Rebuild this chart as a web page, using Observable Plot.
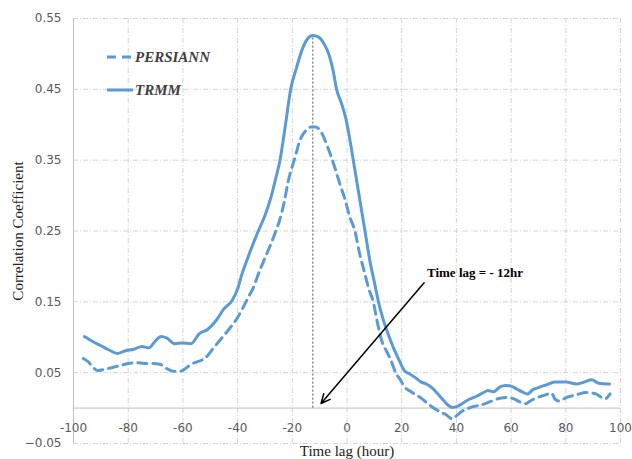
<!DOCTYPE html>
<html>
<head>
<meta charset="utf-8">
<script src="https://cdn.jsdelivr.net/npm/d3@7"></script>
<script src="https://cdn.jsdelivr.net/npm/@observablehq/plot@0.6"></script>
<style>
  html, body { margin: 0; padding: 0; background: #fff; }
  #wrap { position: relative; width: 632px; height: 459px; }
  #legend { position: absolute; left: 0; top: 0; pointer-events: none; }
</style>
</head>
<body>
<div id="wrap"></div>
<script>
// ---- data ----
const lagsTRMM = [-96,-93,-90,-87,-84,-81,-78,-75,-72.5,-70,-68,-66,-63,-60,-57,-54,-51,-48,-45,-42,-40,-38.5,-36,-34,-32.4,-30,-28,-26,-24.5,-22.5,-20.6,-18.5,-16.5,-14.5,-12.5,-10.5,-8.5,-6.5,-5,-3.8,-2,-0.5,1,2.3,4,5.5,7,8.5,10,11.5,13,15,17,19,21,23,25,27,29,31,33,35,37,38.5,40,42,44,47,50,51.5,53.5,56,58,60,62,64,66,68,70,73,76,80,84,87,89.5,92,96];
const trmm = [0.101,0.094,0.088,0.082,0.077,0.081,0.083,0.087,0.085,0.095,0.101,0.099,0.091,0.092,0.091,0.105,0.111,0.123,0.140,0.152,0.168,0.188,0.215,0.235,0.250,0.272,0.295,0.325,0.350,0.400,0.450,0.480,0.505,0.521,0.526,0.524,0.515,0.498,0.475,0.450,0.430,0.410,0.380,0.350,0.310,0.275,0.240,0.205,0.178,0.150,0.128,0.105,0.085,0.068,0.053,0.048,0.043,0.037,0.034,0.029,0.021,0.012,0.004,0.001,0.002,0.006,0.011,0.016,0.022,0.025,0.023,0.030,0.032,0.031,0.027,0.023,0.020,0.026,0.029,0.033,0.037,0.037,0.034,0.037,0.040,0.035,0.034];

const lagsPersiann = [-96.4,-94.5,-93,-91,-88.5,-86,-83,-80,-77,-74,-71,-68.5,-66,-63.5,-61,-59,-57,-55,-53,-51,-49,-46,-43,-40,-38,-36,-34,-33,-31.5,-30,-28,-26,-24.5,-23,-21.5,-19,-17.2,-15,-13,-11.5,-9.5,-7,-4.5,-2.5,-1,1,2.9,4.5,6.5,8,9.6,11,12.7,14.5,16,17.8,19.5,21,23,25.5,27.5,29,31,33,35,36.5,38.3,40,41.5,44,46,48.6,51,53,56,59,61,63,65,67,69,72,74.8,76,77.5,80.3,84,87.5,91,94.3,96.2];
const persiann = [0.070,0.065,0.058,0.053,0.055,0.057,0.060,0.063,0.064,0.063,0.063,0.062,0.056,0.052,0.052,0.056,0.062,0.065,0.068,0.074,0.084,0.098,0.112,0.128,0.142,0.157,0.172,0.183,0.198,0.212,0.230,0.250,0.267,0.290,0.320,0.354,0.378,0.392,0.397,0.397,0.390,0.368,0.340,0.315,0.298,0.270,0.250,0.220,0.190,0.168,0.150,0.123,0.095,0.080,0.068,0.050,0.040,0.030,0.024,0.018,0.013,0.008,0.002,-0.003,-0.007,-0.010,-0.015,-0.011,-0.006,-0.001,0.002,0.004,0.007,0.010,0.014,0.015,0.013,0.009,0.006,0.010,0.014,0.018,0.021,0.013,0.010,0.015,0.019,0.022,0.020,0.013,0.020];

const xTicks = [-100,-80,-60,-40,-20,0,20,40,60,80,100];
const yTicks = [-0.05,0.05,0.15,0.25,0.35,0.45,0.55];
const seriesNames = ["PERSIANN","TRMM"];
const peakLag = -12.5;
const peakValue = 0.527;
const annotationText = "Time lag = - 12hr";
const arrowFrom = {x: 28.2, y: 0.177};
const arrowTo = {x: -9.5, y: 0.0065};
const annotationPos = {x: 46.8, y: 0.191};

const trmmData = lagsTRMM.map((x, i) => ({x, y: trmm[i]}));
const persData = lagsPersiann.map((x, i) => ({x, y: persiann[i]}));

const blue = "#5B9BD5";
const gridOpts = {stroke: "#d4d4d4", strokeOpacity: 1, strokeWidth: 1, strokeDasharray: "5,2,1,2"};

const chart = Plot.plot({
  width: 632,
  height: 459,
  marginLeft: 73,
  marginRight: 12,
  marginTop: 18,
  marginBottom: 16,
  style: {fontFamily: "DejaVu Sans, Verdana, sans-serif", background: "#fff"},
  x: {domain: [-100, 100]},
  y: {domain: [-0.05, 0.55]},
  marks: [
    Plot.gridX(xTicks, gridOpts),
    Plot.gridY(yTicks, gridOpts),
    Plot.ruleX([-100], {stroke: "#bfbfbf", strokeWidth: 1}),
    Plot.ruleY([0], {stroke: "#bfbfbf", strokeWidth: 1}),
    Plot.axisY({ticks: yTicks, tickSize: 0, tickPadding: 12, tickFormat: d3.format(".2f"), fontSize: 12, fill: "#595959", label: null}),
    Plot.axisX({ticks: [], label: null, tickSize: 0}),
    Plot.text(xTicks, {x: d => d, y: 0, dy: 20, text: d => String(d), fontSize: 12, fill: "#595959"}),
    Plot.ruleX([peakLag], {y1: 0, y2: peakValue, stroke: "#555", strokeWidth: 1, strokeDasharray: "2,2"}),
    Plot.line(persData, {x: "x", y: "y", stroke: blue, strokeWidth: 3, strokeDasharray: "9,6", curve: "monotone-x"}),
    Plot.line(trmmData, {x: "x", y: "y", stroke: blue, strokeWidth: 3, curve: "monotone-x"}),
    Plot.arrow([{x1: arrowFrom.x, y1: arrowFrom.y, x2: arrowTo.x, y2: arrowTo.y}], {x1: "x1", y1: "y1", x2: "x2", y2: "y2", stroke: "#000", strokeWidth: 1.5, headLength: 10, headAngle: 50}),
    Plot.text([annotationPos], {x: "x", y: "y", text: () => annotationText, fontFamily: "Liberation Serif, Times New Roman, serif", fontWeight: "bold", fontSize: 13, fill: "#000"}),
    Plot.text(["Time lag (hour)"], {frameAnchor: "bottom", dy: 8, lineAnchor: "middle", text: d => d, fontFamily: "Liberation Serif, Times New Roman, serif", fontSize: 15, fill: "#222"}),
    Plot.text(["Correlation Coefficient"], {frameAnchor: "left", textAnchor: "middle", dx: -55, rotate: -90, text: d => d, fontFamily: "Liberation Serif, Times New Roman, serif", fontSize: 15, fill: "#222"})
  ]
});

const wrap = document.getElementById("wrap");
wrap.appendChild(chart);

// legend overlay inside the plot area
const leg = d3.select(wrap).append("svg")
  .attr("id", "legend").attr("width", 632).attr("height", 459);
const legendStyles = [
  {name: seriesNames[0], dash: "9,6", y: 57},
  {name: seriesNames[1], dash: null, y: 90}
];
const g = leg.selectAll("g").data(legendStyles).join("g");
g.append("line")
  .attr("x1", 107).attr("x2", 133)
  .attr("y1", d => d.y).attr("y2", d => d.y)
  .attr("stroke", blue).attr("stroke-width", 3)
  .attr("stroke-dasharray", d => d.dash);
g.append("text")
  .attr("x", 135).attr("y", d => d.y)
  .attr("dy", "0.35em")
  .attr("font-family", "Liberation Serif, Times New Roman, serif")
  .attr("font-style", "italic").attr("font-weight", "bold")
  .attr("font-size", 15).attr("fill", "#404040")
  .text(d => d.name);
</script>
</body>
</html>
